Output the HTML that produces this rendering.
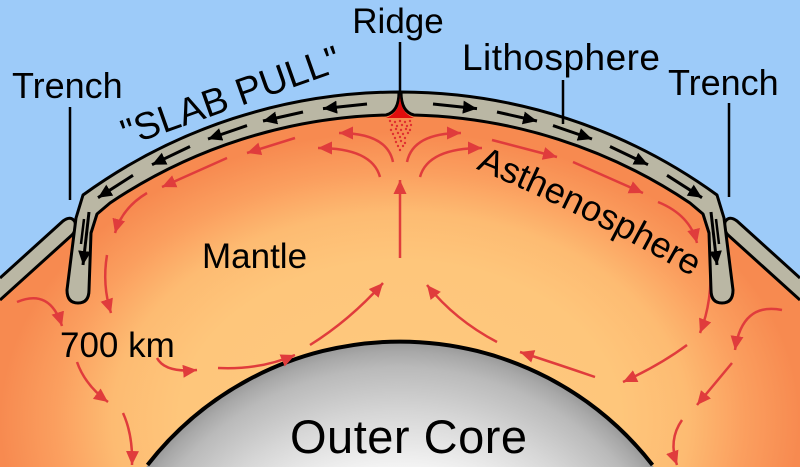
<!DOCTYPE html>
<html>
<head>
<meta charset="utf-8">
<style>
  html, body { margin: 0; padding: 0; background: #9dcbf9; width: 800px; height: 467px; overflow: hidden; }
  svg { display: block; position: absolute; left: 0; top: 0; overflow: hidden; }
  text { font-family: "Liberation Sans", Arial, sans-serif; fill: #000; }
</style>
</head>
<body>
<svg width="800" height="467" viewBox="0 0 800 467" xmlns="http://www.w3.org/2000/svg">
  <defs>
    <radialGradient id="mg" gradientUnits="userSpaceOnUse" cx="400" cy="420" r="400"
      gradientTransform="translate(400 420) scale(1 0.72) translate(-400 -420)">
      <stop offset="0" stop-color="#fec97e"/>
      <stop offset="0.55" stop-color="#fec67b"/>
      <stop offset="0.72" stop-color="#fdbb72"/>
      <stop offset="0.86" stop-color="#fb9f5f"/>
      <stop offset="1" stop-color="#f78a50"/>
    </radialGradient>
    <radialGradient id="cg" gradientUnits="userSpaceOnUse" cx="400" cy="662" r="320">
      <stop offset="0" stop-color="#ffffff"/>
      <stop offset="0.6" stop-color="#f5f5f5"/>
      <stop offset="0.78" stop-color="#d6d6d6"/>
      <stop offset="0.92" stop-color="#bababa"/>
      <stop offset="0.97" stop-color="#a8a8a8"/>
      <stop offset="1" stop-color="#999999"/>
    </radialGradient>
    <marker id="bk" markerUnits="userSpaceOnUse" markerWidth="16" markerHeight="14" refX="14" refY="6.5" orient="auto">
      <path d="M0,0 L14,6.5 L0,13 Z" fill="#000"/>
    </marker>
    <marker id="rd" markerUnits="userSpaceOnUse" markerWidth="16" markerHeight="14" refX="14" refY="6.5" orient="auto">
      <path d="M0,0 L14,6.5 L0,13 Z" fill="#e03c3c"/>
    </marker>
    <path id="ap" d="M474,168 Q585,214 698,280" fill="none"/>
  </defs>

  <!-- sky -->
  <rect x="0" y="0" width="800" height="467" fill="#9dcbf9"/>

  <!-- mantle -->
  <path d="M0,278 L63,221 L76,218 L83,195 A540,540 0 0 1 717,195 L724,218 L737,221 L800,278 L800,467 L0,467 Z" fill="url(#mg)"/>

  <!-- core (visible part only) -->
  <path d="M146.3,467 A320,320 0 0 1 653.7,467 Z" fill="url(#cg)"/>
  <path d="M147.5,465 A320,320 0 0 1 652.5,465" fill="none" stroke="#000" stroke-width="4"/>

  <!-- red convection arrows -->
  <g fill="none" stroke="#e03c3c" stroke-width="2.5" marker-end="url(#rd)">
    <path d="M393,162 Q387,133 339,133"/>
    <path d="M380,177 Q372,148 318,148"/>
    <path d="M295,138 L247,153"/>
    <path d="M227,158 L162,187"/>
    <path d="M147,193 Q122,208 115,233"/>
    <path d="M107,255 Q102,285 111,313"/>
    <path d="M17,302 Q50,288 62,326"/>
    <path d="M77,362 Q85,385 108,402"/>
    <path d="M123,413 Q133,435 132,465"/>
    <path d="M157,358 Q165,373 197,370"/>
    <path d="M218,368 Q260,370 295,355"/>
    <path d="M310,345 Q350,320 383,283"/>
    <path d="M400,258 L400,180"/>

    <path d="M407,162 Q413,133 461,133"/>
    <path d="M420,177 Q428,148 482,148"/>
    <path d="M492,140 L557,157"/>
    <path d="M573,162 L643,193"/>
    <path d="M658,202 Q690,215 697,243"/>
    <path d="M710,262 Q713,300 700,333"/>
    <path d="M782,310 Q742,302 735,350"/>
    <path d="M732,363 L697,405"/>
    <path d="M682,420 Q668,440 677,465"/>
    <path d="M687,345 Q660,365 623,382"/>
    <path d="M595,377 Q560,365 520,352"/>
    <path d="M497,342 Q455,320 427,285"/>
  </g>

  <!-- overriding plates -->
  <path d="M0,278 L63,221 Q71,215 75,222 Q77,230 72,235 L0,300 Z" fill="#bab7a4"/>
  <path d="M0,278 L63,221 Q71,215 75,222 Q77,230 72,235 L0,300" fill="none" stroke="#000" stroke-width="3" stroke-linejoin="round"/>
  <path d="M800,278 L737,221 Q729,215 725,222 Q723,230 728,235 L800,300 Z" fill="#bab7a4"/>
  <path d="M800,278 L737,221 Q729,215 725,222 Q723,230 728,235 L800,300" fill="none" stroke="#000" stroke-width="3" stroke-linejoin="round"/>

  <!-- lithosphere plates -->
  <g fill="#bab7a4" stroke="#000" stroke-width="3" stroke-linejoin="round">
    <path d="M399,92 A540,540 0 0 0 83,195 L76,218 L67,290 Q67,303 78,303 Q89,303 89,290 L91,233 L97,214 L110,203 A518,518 0 0 1 386,115 Q399,112 399,92 Z"/>
    <path d="M401,92 A540,540 0 0 1 717,195 L724,218 L733,290 Q733,303 722,303 Q711,303 711,290 L709,233 L703,214 L690,203 A518,518 0 0 0 414,115 Q401,112 401,92 Z"/>
  </g>

  <!-- ridge magma -->
  <path d="M400,94 Q400,113 386,118 L414,118 Q400,113 400,94 Z" fill="#e00d0d"/>
  <g fill="#e03030">
    <circle cx="390" cy="121" r="1.2"/><circle cx="395" cy="122" r="1.2"/><circle cx="400" cy="121" r="1.2"/><circle cx="405" cy="122" r="1.2"/><circle cx="410" cy="121" r="1.2"/>
    <circle cx="392" cy="125" r="1.2"/><circle cx="397" cy="126" r="1.2"/><circle cx="402" cy="125" r="1.2"/><circle cx="407" cy="126" r="1.2"/><circle cx="411" cy="125" r="1.2"/>
    <circle cx="391" cy="130" r="1.2"/><circle cx="396" cy="129" r="1.2"/><circle cx="401" cy="130" r="1.2"/><circle cx="406" cy="129" r="1.2"/><circle cx="410" cy="130" r="1.2"/>
    <circle cx="393" cy="134" r="1.2"/><circle cx="398" cy="133" r="1.2"/><circle cx="403" cy="134" r="1.2"/><circle cx="408" cy="133" r="1.2"/>
    <circle cx="395" cy="138" r="1.2"/><circle cx="400" cy="137" r="1.2"/><circle cx="405" cy="138" r="1.2"/>
    <circle cx="396" cy="142" r="1.2"/><circle cx="401" cy="141" r="1.2"/><circle cx="405" cy="143" r="1.2"/>
    <circle cx="398" cy="146" r="1.2"/><circle cx="403" cy="146" r="1.2"/>
    <circle cx="400" cy="150" r="1.2"/>
  </g>

  <!-- black motion arrows -->
  <g fill="none" stroke="#000" stroke-width="3" marker-end="url(#bk)">
    <path d="M367,104 L323,108.6"/>
    <path d="M303,112 L263,121"/>
    <path d="M247,125.6 L208,139"/>
    <path d="M190,146.5 L152,164.7"/>
    <path d="M133,175.3 L98,197.7"/>
    <path d="M89,212 L83,265"/>
    <path d="M433,104 L477,108.6"/>
    <path d="M497,112 L537,121"/>
    <path d="M553,125.6 L592,139"/>
    <path d="M610,146.5 L648,164.7"/>
    <path d="M667,175.3 L702,197.7"/>
    <path d="M711,212 L717,265"/>
  </g>
  <path d="M84,219 L81,244" stroke="#000" stroke-width="2.5"/>
  <path d="M716,219 L719,244" stroke="#000" stroke-width="2.5"/>

  <!-- pointer lines -->
  <g stroke="#000" stroke-width="2.5">
    <line x1="70" y1="107" x2="70" y2="200"/>
    <line x1="729" y1="103" x2="729" y2="197"/>
    <line x1="400" y1="42" x2="400" y2="91"/>
    <line x1="563" y1="80" x2="563" y2="124"/>
  </g>

  <!-- labels -->
  <text x="12" y="98" font-size="36">Trench</text>
  <text x="668" y="95" font-size="36">Trench</text>
  <text x="398" y="33" font-size="35" text-anchor="middle">Ridge</text>
  <text x="462" y="70" font-size="37" textLength="198" lengthAdjust="spacing">Lithosphere</text>
  <text x="235" y="108" font-size="38" text-anchor="middle" transform="rotate(-19.5 235 108)">"SLAB PULL"</text>
  <text font-size="36"><textPath href="#ap" startOffset="2">Asthenosphere</textPath></text>
  <text x="202" y="268" font-size="35">Mantle</text>
  <text x="60" y="357" font-size="35">700 km</text>
  <text x="290" y="453" font-size="47" textLength="237" lengthAdjust="spacing">Outer Core</text>
</svg>
</body>
</html>
